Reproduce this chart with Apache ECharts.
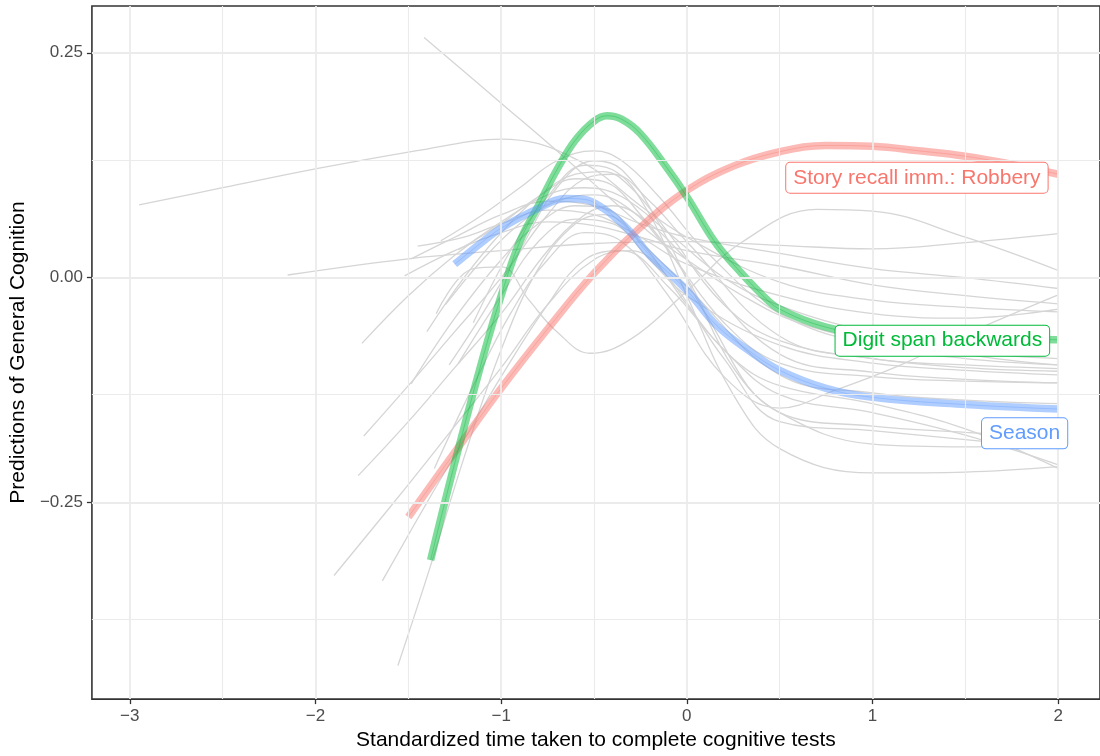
<!DOCTYPE html>
<html>
<head>
<meta charset="utf-8">
<script src="https://cdn.jsdelivr.net/npm/echarts@6/dist/echarts.min.js"></script>
<style>
  html, body { margin: 0; padding: 0; background: #ffffff; }
  #chart { width: 1100px; height: 756px; }
</style>
</head>
<body>
<div id="chart"></div>
<script>
// tick positions and grid
const xTicks = [-3, -2, -1, 0, 1, 2];
const yTicks = [-0.25, 0, 0.25];
const xGridMajor = [-3, -2, -1, 0, 1, 2];
const xGridMinor = [-2.5, -1.5, -0.5, 0.5, 1.5];
const yGridMajor = [-0.25, 0, 0.25];
const yGridMinor = [-0.375, -0.125, 0.125];

// highlighted tests
const robbery = [
  [-1.5, -0.266], [-1.25, -0.194], [-1.0, -0.123], [-0.75, -0.057], [-0.5, 0.005],
  [-0.25, 0.056], [0, 0.097], [0.25, 0.124], [0.5, 0.14], [0.75, 0.147],
  [1.0, 0.146], [1.25, 0.141], [1.5, 0.135], [1.75, 0.126], [2.0, 0.115]
];
const digitSpan = [
  [-1.38, -0.314], [-1.25, -0.206], [-1.1, -0.09], [-1.0, -0.02], [-0.9, 0.04],
  [-0.8, 0.08], [-0.7, 0.12], [-0.6, 0.153], [-0.5, 0.174], [-0.43, 0.18],
  [-0.35, 0.176], [-0.25, 0.16], [-0.1, 0.12], [0, 0.09], [0.15, 0.04],
  [0.25, 0.015], [0.4, -0.018], [0.5, -0.035], [0.75, -0.055], [1.0, -0.063],
  [1.5, -0.067], [2.0, -0.069]
];
const season = [
  [-1.25, 0.015], [-1.1, 0.04], [-1.0, 0.055], [-0.8, 0.077], [-0.65, 0.088],
  [-0.55, 0.087], [-0.45, 0.077], [-0.376, 0.065], [-0.3, 0.05], [-0.2, 0.025],
  [0, -0.014], [0.16, -0.053], [0.34, -0.082], [0.5, -0.103], [0.75, -0.123],
  [1.0, -0.133], [1.5, -0.141], [2.0, -0.146]
];
const labelNames = ['Story recall imm.: Robbery', 'Digit span backwards', 'Season'];
const labelPositions = [[1.239, 0.111], [1.376, -0.07], [1.819, -0.173]];
const labelColors = ['#F8766D', '#00BA38', '#619CFF'];

// all other tests
const otherTests = [
  [[-2.95, 0.081], [-2.5, 0.1], [-2.0, 0.121], [-1.4, 0.143], [-1.0, 0.154], [-0.8, 0.149], [-0.63, 0.135], [-0.48, 0.118], [-0.25, 0.08], [0, 0.045], [0.5, -0.005], [1.0, -0.025], [1.5, -0.033], [2.0, -0.038]],
  [[-1.415, 0.267], [-1.0, 0.194], [-0.7, 0.141], [-0.45, 0.095], [-0.2, 0.05], [0, 0.02], [0.3, -0.02], [0.6, -0.05], [1.0, -0.07], [1.5, -0.083], [2.0, -0.09]],
  [[-2.15, 0.003], [-1.5, 0.021], [-1.0, 0.03], [-0.5, 0.038], [0, 0.04], [0.5, 0.036], [1.0, 0.032], [1.5, 0.039], [2.0, 0.049]],
  [[-1.35, -0.04], [-1.15, 0.01], [-1.0, 0.012], [-0.85, -0.025], [-0.7, -0.06], [-0.52, -0.084], [-0.3, -0.068], [0, -0.015], [0.3, 0.04], [0.7, 0.076], [1.0, 0.074], [1.5, 0.045], [2.0, 0.008]],
  [[-1.75, -0.073], [-1.5, -0.02], [-1.25, 0.025], [-1.0, 0.062], [-0.75, 0.092], [-0.55, 0.1], [-0.35, 0.09], [-0.1, 0.05], [0.2, 0.0], [0.5, -0.031], [1.0, -0.062], [1.5, -0.085], [2.0, -0.097]],
  [[-1.74, -0.176], [-1.5, -0.12], [-1.25, -0.06], [-1.0, 0.0], [-0.75, 0.07], [-0.55, 0.11], [-0.4, 0.115], [-0.2, 0.085], [0, 0.04], [0.5, -0.065], [1.0, -0.09], [1.5, -0.097], [2.0, -0.101]],
  [[-1.77, -0.22], [-1.5, -0.16], [-1.25, -0.1], [-1.0, -0.04], [-0.75, 0.03], [-0.55, 0.07], [-0.4, 0.08], [-0.2, 0.06], [0, 0.02], [0.5, -0.085], [1.0, -0.105], [1.5, -0.113], [2.0, -0.117]],
  [[-1.9, -0.331], [-1.5, -0.23], [-1.25, -0.165], [-1.0, -0.1], [-0.75, -0.03], [-0.5, 0.02], [-0.3, 0.03], [-0.1, 0.0], [0.2, -0.09], [0.5, -0.16], [1.0, -0.17], [1.5, -0.18], [2.0, -0.19]],
  [[-1.64, -0.337], [-1.4, -0.25], [-1.2, -0.18], [-1.0, -0.11], [-0.75, -0.03], [-0.55, 0.02], [-0.35, 0.03], [-0.1, -0.01], [0.2, -0.08], [0.5, -0.13], [1.0, -0.15], [1.5, -0.175], [2.0, -0.208]],
  [[-1.556, -0.431], [-1.38, -0.32], [-1.2, -0.2], [-1.0, -0.08], [-0.8, 0.01], [-0.6, 0.06], [-0.45, 0.07], [-0.25, 0.04], [0, -0.03], [0.25, -0.09], [0.5, -0.12], [1.0, -0.14], [1.5, -0.168], [2.0, -0.212]],
  [[-1.485, -0.118], [-1.25, -0.045], [-1.0, 0.02], [-0.8, 0.06], [-0.6, 0.08], [-0.45, 0.078], [-0.25, 0.04], [0, -0.01], [0.5, -0.108], [1.0, -0.128], [1.5, -0.136], [2.0, -0.14]],
  [[-1.28, -0.097], [-1.1, -0.04], [-0.9, 0.03], [-0.7, 0.1], [-0.5, 0.13], [-0.35, 0.12], [-0.15, 0.06], [0.1, -0.04], [0.5, -0.15], [1.0, -0.165], [1.5, -0.172], [2.0, -0.178]],
  [[-1.23, -0.095], [-1.0, -0.02], [-0.8, 0.04], [-0.6, 0.065], [-0.4, 0.06], [-0.2, 0.02], [0, -0.02], [0.5, -0.075], [1.0, -0.095], [1.5, -0.103], [2.0, -0.108]],
  [[-1.36, -0.212], [-1.15, -0.12], [-0.95, -0.04], [-0.75, 0.02], [-0.55, 0.05], [-0.35, 0.04], [-0.1, -0.02], [0.2, -0.11], [0.5, -0.145], [0.8, -0.125], [1.14, -0.098], [1.5, -0.063], [2.0, -0.019]],
  [[-1.52, 0.002], [-1.25, 0.03], [-1.0, 0.05], [-0.75, 0.062], [-0.5, 0.058], [-0.25, 0.045], [0, 0.03], [0.5, 0.013], [1.0, -0.008], [1.5, -0.02], [2.0, -0.029]],
  [[-1.485, 0.021], [-1.25, 0.045], [-1.0, 0.07], [-0.75, 0.085], [-0.5, 0.08], [-0.25, 0.06], [0, 0.045], [0.5, 0.027], [1.0, 0.01], [1.5, 0.0], [2.0, -0.012]],
  [[-1.325, 0.041], [-1.1, 0.07], [-0.9, 0.1], [-0.7, 0.13], [-0.5, 0.141], [-0.35, 0.13], [-0.15, 0.09], [0.1, 0.03], [0.5, -0.04], [1.0, -0.075], [1.5, -0.09], [2.0, -0.097]],
  [[-1.23, 0.031], [-1.0, 0.06], [-0.8, 0.09], [-0.6, 0.11], [-0.45, 0.107], [-0.25, 0.07], [0, 0.0], [0.25, -0.1], [0.5, -0.15], [1.0, -0.185], [1.5, -0.188], [2.0, -0.187]],
  [[-1.15, -0.05], [-0.95, 0.03], [-0.75, 0.09], [-0.55, 0.125], [-0.4, 0.12], [-0.2, 0.07], [0, -0.02], [0.25, -0.13], [0.5, -0.19], [1.0, -0.217], [1.5, -0.216], [2.0, -0.21]],
  [[-1.3, -0.03], [-1.1, 0.02], [-0.9, 0.06], [-0.7, 0.085], [-0.5, 0.092], [-0.3, 0.075], [-0.1, 0.03], [0.2, -0.05], [0.5, -0.095], [1.0, -0.11], [1.5, -0.115], [2.0, -0.117]],
  [[-1.4, -0.06], [-1.2, 0.0], [-1.0, 0.05], [-0.8, 0.09], [-0.6, 0.115], [-0.45, 0.118], [-0.3, 0.1], [-0.1, 0.05], [0.2, -0.03], [0.5, -0.07], [1.0, -0.09], [1.5, -0.1], [2.0, -0.104]],
  [[-1.45, 0.035], [-1.2, 0.045], [-1.0, 0.06], [-0.75, 0.075], [-0.5, 0.07], [-0.25, 0.045], [0, 0.015], [0.5, -0.02], [1.0, -0.04], [1.5, -0.045], [2.0, -0.035]]
];

const FONT = '"Liberation Sans", Arial, Helvetica, sans-serif';
const minus = v => (v < 0 ? '\u2212' : '') + Math.abs(v);

const chart = echarts.init(document.getElementById('chart'), null, { renderer: 'canvas' });

function gridLines() {
  const data = [];
  xGridMinor.forEach(v => data.push({ xAxis: v, lineStyle: { width: 1.1 } }));
  yGridMinor.forEach(v => data.push({ yAxis: v, lineStyle: { width: 1.1 } }));
  xGridMajor.forEach(v => data.push({ xAxis: v, lineStyle: { width: 1.8 } }));
  yGridMajor.forEach(v => data.push({ yAxis: v, lineStyle: { width: 1.8 } }));
  return data;
}

const series = [
  {
    type: 'line',
    data: [],
    z: 1,
    silent: true,
    markLine: {
      silent: true,
      symbol: ['none', 'none'],
      label: { show: false },
      animation: false,
      lineStyle: { color: '#EBEBEB', type: 'solid' },
      data: gridLines()
    }
  }
];

otherTests.forEach(d => {
  series.push({
    type: 'line',
    data: d,
    z: 2,
    smooth: 0.4,
    showSymbol: false,
    silent: true,
    lineStyle: { color: '#D5D5D5', width: 1.3 }
  });
});

[robbery, digitSpan, season].forEach((d, i) => {
  series.push({
    type: 'line',
    data: d,
    z: 3,
    smooth: 0.4,
    showSymbol: false,
    silent: true,
    lineStyle: { color: labelColors[i], width: 7.5, opacity: 0.5, cap: 'butt' }
  });
  series.push({
    type: 'line',
    data: d,
    z: 4,
    smooth: 0.4,
    showSymbol: false,
    silent: true,
    lineStyle: { color: labelColors[i], width: 0.8, opacity: 0.45 }
  });
});

series.push({
  type: 'scatter',
  z: 5,
  silent: true,
  symbolSize: 1,
  itemStyle: { color: '#ffffff' },
  data: labelPositions.map((p, i) => ({
    value: p,
    label: {
      show: true,
      opacity: 1,
      position: 'inside',
      formatter: labelNames[i],
      color: labelColors[i],
      fontFamily: FONT,
      fontSize: 21,
      backgroundColor: '#ffffff',
      borderColor: labelColors[i],
      borderWidth: 1,
      borderRadius: 4,
      padding: [5, 7, 4, 7],
      textBorderWidth: 0
    }
  }))
});

chart.setOption({
  animation: false,
  backgroundColor: '#ffffff',
  grid: {
    left: 90, right: -2, top: 6, bottom: 55,
    show: true, borderColor: '#333333', borderWidth: 1.6, backgroundColor: 'transparent'
  },
  xAxis: {
    type: 'value',
    min: -3.204,
    max: 2.225,
    name: 'Standardized time taken to complete cognitive tests',
    nameLocation: 'middle',
    nameGap: 28,
    nameTextStyle: { color: '#000000', fontSize: 21, fontFamily: FONT },
    axisLine: { show: false, onZero: false },
    splitLine: { show: false },
    axisTick: { show: true, length: 5, customValues: xTicks, lineStyle: { color: '#333333', width: 1.3 } },
    axisLabel: {
      customValues: xTicks, margin: 9, color: '#4D4D4D', fontSize: 17, fontFamily: FONT,
      formatter: v => minus(v)
    }
  },
  yAxis: {
    type: 'value',
    min: -0.4684,
    max: 0.302,
    name: 'Predictions of General Cognition',
    nameLocation: 'middle',
    nameGap: 60,
    nameTextStyle: { color: '#000000', fontSize: 21, fontFamily: FONT },
    axisLine: { show: false, onZero: false },
    splitLine: { show: false },
    axisTick: { show: true, length: 5, customValues: yTicks, lineStyle: { color: '#333333', width: 1.3 } },
    axisLabel: {
      customValues: yTicks, margin: 9, color: '#4D4D4D', fontSize: 17, fontFamily: FONT,
      formatter: v => (v < 0 ? '\u2212' : '') + Math.abs(v).toFixed(2)
    }
  },
  series: series
});
</script>
</body>
</html>
